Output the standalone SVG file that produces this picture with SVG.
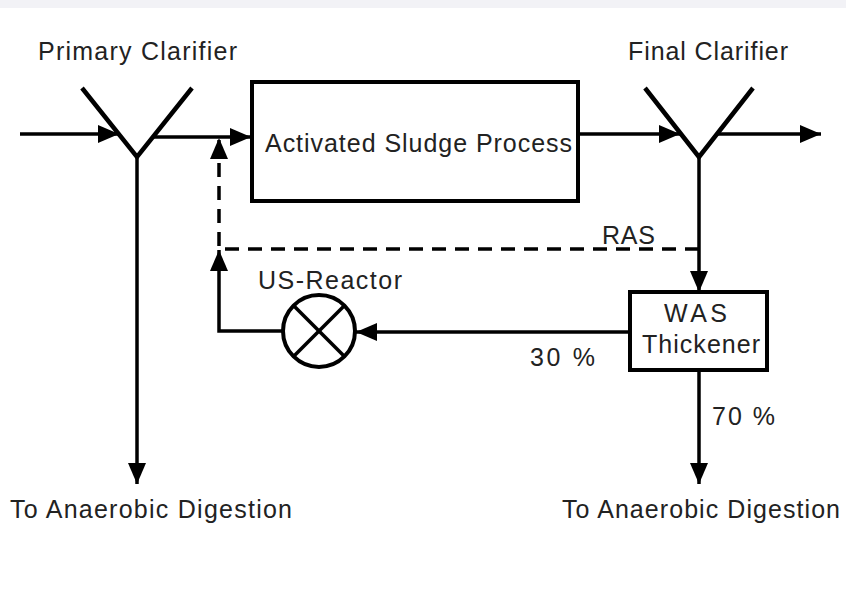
<svg xmlns="http://www.w3.org/2000/svg" width="846" height="593" viewBox="0 0 846 593">
<style>
.t{font-family:"Liberation Sans",Arial,sans-serif;font-size:25px;fill:#222}
.ln{stroke:#000;stroke-width:3.5;fill:none}
.ds{stroke:#000;stroke-width:3.5;fill:none;stroke-dasharray:14 9}
.sh{stroke:#000;stroke-width:4;fill:#fff}
.y{stroke:#000;stroke-width:4.5;fill:none;stroke-linejoin:miter}
</style>
<defs>
<marker id="ah" markerUnits="userSpaceOnUse" markerWidth="24" markerHeight="20" refX="21" refY="9" orient="auto">
<path d="M0,0 L21,9 L0,18 z" fill="#000"/>
</marker>
</defs>
<rect x="0" y="0" width="846" height="593" fill="#fff"/>
<rect x="0" y="0" width="846" height="8" fill="#f2f2f6"/>
<g id="connectors">
<line class="ln" x1="20" y1="134" x2="119" y2="134" marker-end="url(#ah)"/>
<line class="ln" x1="154" y1="137" x2="251" y2="137" marker-end="url(#ah)"/>
<line class="ln" x1="137" y1="157" x2="137" y2="484" marker-end="url(#ah)"/>
<line class="ln" x1="578" y1="134" x2="680" y2="134" marker-end="url(#ah)"/>
<line class="ln" x1="718" y1="134" x2="821" y2="134" marker-end="url(#ah)"/>
<line class="ln" x1="699" y1="157" x2="699" y2="292" marker-end="url(#ah)"/>
<polyline class="ds" points="699,249 219,249 219,138" marker-end="url(#ah)"/>
<line class="ln" x1="630" y1="332" x2="356" y2="332" marker-end="url(#ah)"/>
<polyline class="ln" points="283,331 219,331 219,250" marker-end="url(#ah)"/>
<line class="ln" x1="699" y1="370" x2="699" y2="484" marker-end="url(#ah)"/>
</g>
<g id="primary-clarifier">
<polyline class="y" points="82,88 137,157 192,88"/>
<text class="t" x="38" y="60" textLength="199" lengthAdjust="spacing">Primary Clarifier</text>
</g>
<g id="activated-sludge">
<rect class="sh" x="252" y="82" width="326" height="119"/>
<text class="t" x="265" y="152" textLength="307" lengthAdjust="spacing">Activated Sludge Process</text>
</g>
<g id="final-clarifier">
<polyline class="y" points="645,88 699,157 753,88"/>
<text class="t" x="628" y="60" textLength="160" lengthAdjust="spacing">Final Clarifier</text>
</g>
<g id="was-thickener">
<rect class="sh" x="630" y="292" width="137" height="78"/>
<text class="t" x="664" y="322" textLength="63" lengthAdjust="spacing">WAS</text>
<text class="t" x="642" y="353" textLength="118" lengthAdjust="spacing">Thickener</text>
</g>
<g id="us-reactor">
<circle class="sh" cx="319" cy="331" r="36"/>
<line class="ln" x1="294" y1="306" x2="344" y2="356"/>
<line class="ln" x1="344" y1="306" x2="294" y2="356"/>
<text class="t" x="258" y="289" textLength="144" lengthAdjust="spacing">US-Reactor</text>
</g>
<g id="labels">
<text class="t" x="602" y="244" textLength="53" lengthAdjust="spacing">RAS</text>
<text class="t" x="530" y="366" textLength="65" lengthAdjust="spacing">30 %</text>
<text class="t" x="712" y="425" textLength="63" lengthAdjust="spacing">70 %</text>
</g>
<g id="digestion-1">
<text class="t" x="10" y="518" textLength="282" lengthAdjust="spacing">To Anaerobic Digestion</text>
</g>
<g id="digestion-2">
<text class="t" x="562" y="518" textLength="278" lengthAdjust="spacing">To Anaerobic Digestion</text>
</g>
</svg>
